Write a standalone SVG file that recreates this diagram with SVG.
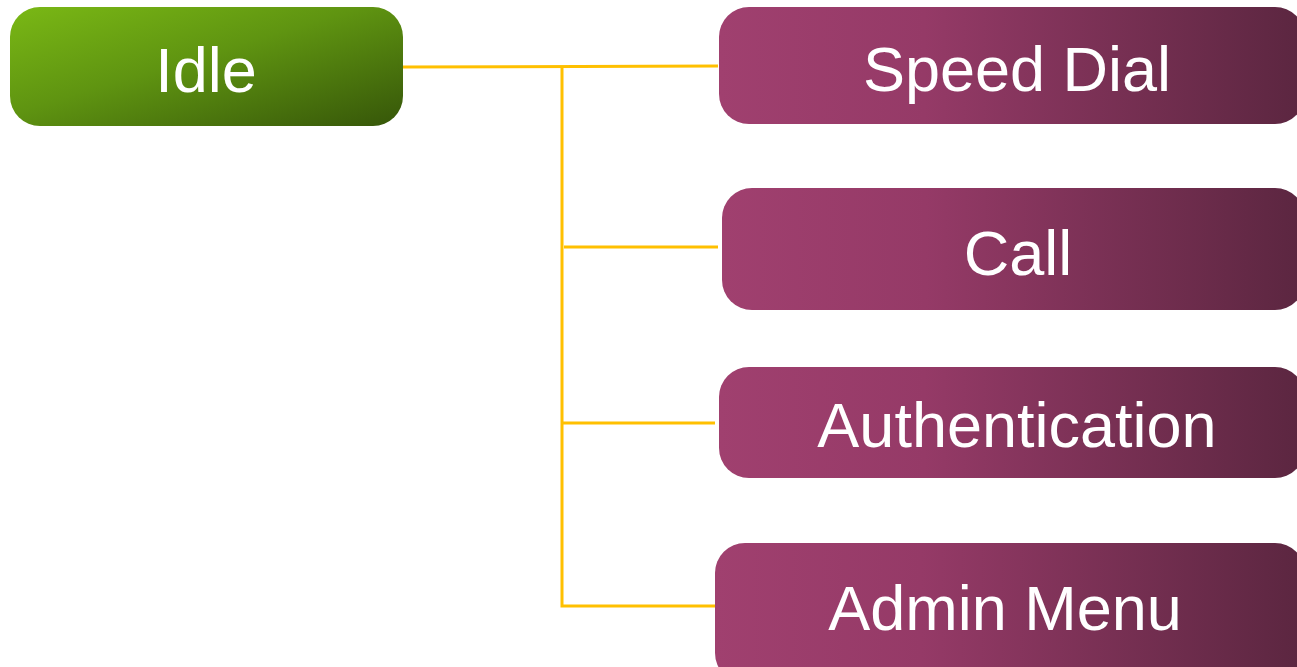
<svg xmlns="http://www.w3.org/2000/svg" width="1297" height="667" viewBox="0 0 1297 667">
<defs>
<linearGradient id="gGreen" x1="0" y1="0" x2="1" y2="1">
<stop offset="0" stop-color="#7ab815"/>
<stop offset="0.45" stop-color="#5f9411"/>
<stop offset="1" stop-color="#365609"/>
</linearGradient>
<linearGradient id="gPurple" x1="0" y1="0" x2="1" y2="0">
<stop offset="0" stop-color="#a0406f"/>
<stop offset="0.35" stop-color="#953a67"/>
<stop offset="1" stop-color="#5b2640"/>
</linearGradient>
<style>
.lbl{font-family:"Liberation Sans",Arial,sans-serif;font-size:63px;fill:#ffffff;text-anchor:middle}
.conn{stroke:#ffc000;stroke-width:3;fill:none}
</style>
</defs>
<rect width="1297" height="667" fill="#ffffff"/>
<g id="connectors">
<path class="conn" d="M403 67 L718 66"/>
<path class="conn" d="M562 67 L562 606 L715 606"/>
<path class="conn" d="M564 247 L718 247"/>
<path class="conn" d="M562 423 L715 423"/>
</g>
<g id="idle">
<rect x="10" y="7" width="393" height="119" rx="30" fill="url(#gGreen)"/>
<text class="lbl" x="206" y="92">Idle</text>
</g>
<g id="speed-dial">
<rect x="719" y="7" width="586" height="117" rx="30" fill="url(#gPurple)"/>
<text class="lbl" x="1017" y="91">Speed Dial</text>
</g>
<g id="call">
<rect x="722" y="188" width="583" height="122" rx="30" fill="url(#gPurple)"/>
<text class="lbl" x="1018" y="275">Call</text>
</g>
<g id="authentication">
<rect x="719" y="367" width="586" height="111" rx="30" fill="url(#gPurple)"/>
<text class="lbl" x="1017" y="447">Authentication</text>
</g>
<g id="admin-menu">
<rect x="715" y="543" width="590" height="140" rx="30" fill="url(#gPurple)"/>
<text class="lbl" x="1005" y="630">Admin Menu</text>
</g>
</svg>
